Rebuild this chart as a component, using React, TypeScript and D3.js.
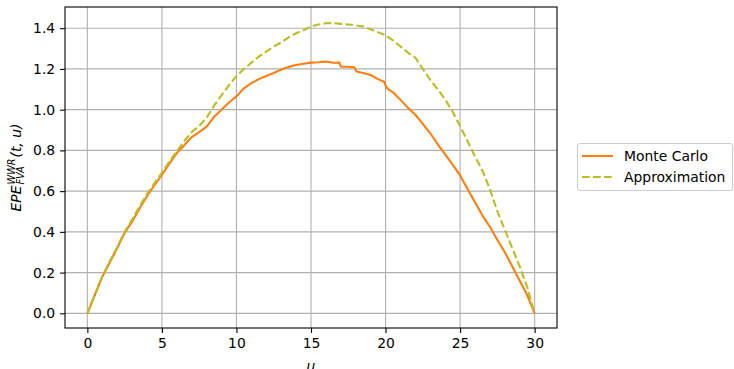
import { useEffect, useRef } from "react"
import * as d3 from "d3"

// u values and EPE estimates
const uMonteCarlo = [
  0, 0.5, 1, 1.5, 2, 2.5, 3, 3.5, 4, 4.5, 5, 5.5, 6, 6.5, 7, 7.5, 8, 8.5, 9, 9.5, 10, 10.5, 11, 11.5, 12,
  12.5, 13, 13.5, 14, 14.5, 15, 15.5, 16, 16.5, 16.9, 17.0, 17.5, 17.9, 18.05, 18.5, 19, 19.5, 19.9, 20.1,
  20.5, 21, 21.5, 22, 22.5, 23, 23.5, 24, 24.5, 25, 25.5, 26, 26.5, 27, 27.5, 28, 28.5, 29, 29.5, 30,
]
const monteCarlo = [
  0, 0.09, 0.18, 0.25, 0.32, 0.395, 0.45, 0.515, 0.575, 0.63, 0.68, 0.735, 0.787, 0.825, 0.865, 0.89, 0.917,
  0.965, 1.0, 1.035, 1.065, 1.105, 1.13, 1.15, 1.165, 1.18, 1.197, 1.21, 1.219, 1.225, 1.231, 1.233, 1.236,
  1.23, 1.231, 1.211, 1.211, 1.208, 1.187, 1.18, 1.17, 1.15, 1.137, 1.105, 1.085, 1.048, 1.01, 0.975, 0.93,
  0.884, 0.83, 0.78, 0.73, 0.677, 0.61, 0.545, 0.48, 0.425, 0.36, 0.3, 0.23, 0.16, 0.09, 0,
]
const uApprox = [
  0, 0.5, 1, 1.5, 2, 2.5, 3, 3.5, 4, 4.5, 5, 5.5, 6, 6.5, 7, 7.5, 8, 8.5, 9, 9.5, 10, 10.5, 11, 11.5, 12,
  12.5, 13, 13.5, 14, 14.5, 15, 15.5, 16, 16.5, 17, 17.5, 18, 18.5, 19, 19.5, 20, 20.5, 21, 21.5, 22, 22.5,
  23, 23.5, 24, 24.5, 25, 25.5, 26, 26.5, 27, 27.5, 28, 28.5, 29, 29.5, 30,
]
const approximation = [
  0, 0.09, 0.18, 0.255, 0.325, 0.4, 0.46, 0.525, 0.585, 0.64, 0.69, 0.745, 0.795, 0.845, 0.89, 0.92, 0.96,
  1.02, 1.07, 1.12, 1.165, 1.2, 1.23, 1.26, 1.285, 1.31, 1.33, 1.355, 1.375, 1.39, 1.408, 1.418, 1.424,
  1.425, 1.421, 1.418, 1.414, 1.408, 1.395, 1.38, 1.365, 1.34, 1.31, 1.28, 1.255, 1.2, 1.146, 1.1, 1.05,
  0.99, 0.92, 0.845, 0.77, 0.7, 0.61, 0.5, 0.41, 0.32, 0.23, 0.13, 0,
]
const xTicks = [0, 5, 10, 15, 20, 25, 30]
const yTicks = [0, 0.2, 0.4, 0.6, 0.8, 1.0, 1.2, 1.4]
const seriesNames = ["Monte Carlo", "Approximation"]

const FONT = "DejaVu Sans, sans-serif"
const FS = 13.9

const App = () => {
  const svgRef = useRef<SVGSVGElement>(null)

  useEffect(() => {
    const svg = d3.select(svgRef.current)
    svg.selectAll("*").remove()

    const plot = { left: 65, right: 557, top: 7, bottom: 328 }

    const x = d3.scaleLinear().domain([-1.5, 31.5]).range([plot.left, plot.right])
    const y = d3.scaleLinear().domain([-0.072, 1.504]).range([plot.bottom, plot.top])

    // grid
    const grid = svg.append("g")
    xTicks.forEach((t) => {
      grid.append("line")
        .attr("x1", x(t)).attr("x2", x(t))
        .attr("y1", plot.top).attr("y2", plot.bottom)
        .attr("stroke", "#b0b0b0").attr("stroke-width", 1.1)
    })
    yTicks.forEach((t) => {
      grid.append("line")
        .attr("x1", plot.left).attr("x2", plot.right)
        .attr("y1", y(t)).attr("y2", y(t))
        .attr("stroke", "#b0b0b0").attr("stroke-width", 1.1)
    })

    svg.append("clipPath").attr("id", "plot-clip")
      .append("rect")
      .attr("x", plot.left).attr("y", plot.top)
      .attr("width", plot.right - plot.left).attr("height", plot.bottom - plot.top)

    const line = d3.line<[number, number]>().x((d) => x(d[0])).y((d) => y(d[1]))

    const lines = svg.append("g").attr("clip-path", "url(#plot-clip)")
    lines.append("path")
      .datum(uMonteCarlo.map((u, i) => [u, monteCarlo[i]] as [number, number]))
      .attr("d", line)
      .attr("fill", "none")
      .attr("stroke", "#ff7f0e")
      .attr("stroke-width", 2.1)
      .attr("stroke-linejoin", "round")

    lines.append("path")
      .datum(uApprox.map((u, i) => [u, approximation[i]] as [number, number]))
      .attr("d", line)
      .attr("fill", "none")
      .attr("stroke", "#bcbd22")
      .attr("stroke-width", 2.1)
      .attr("stroke-dasharray", "7.7,3.3")

    // axes
    const xAxis = svg.append("g")
      .attr("transform", `translate(0,${plot.bottom})`)
      .call(d3.axisBottom(x).tickValues(xTicks).tickSize(4.9).tickPadding(4.9).tickFormat(d3.format("d")))
    const yAxis = svg.append("g")
      .attr("transform", `translate(${plot.left},0)`)
      .call(d3.axisLeft(y).tickValues(yTicks).tickSize(4.9).tickPadding(4.9).tickFormat(d3.format(".1f")))
    ;[xAxis, yAxis].forEach((a) => {
      a.select(".domain").remove()
      a.selectAll("line").attr("stroke", "#000").attr("stroke-width", 1.1)
      a.selectAll("text").style("font-family", FONT).style("font-size", `${FS}px`).attr("fill", "#000")
    })

    // frame
    svg.append("rect")
      .attr("x", plot.left).attr("y", plot.top)
      .attr("width", plot.right - plot.left).attr("height", plot.bottom - plot.top)
      .attr("fill", "none").attr("stroke", "#000").attr("stroke-width", 1.1)

    // x label
    svg.append("text")
      .attr("x", (plot.left + plot.right) / 2)
      .attr("y", 371)
      .attr("text-anchor", "middle")
      .style("font-family", FONT).style("font-size", `${FS}px`).style("font-style", "italic")
      .text("u")

    // y label: EPE^{WWR}_{FVA}(t, u)
    const yl = svg.append("g").attr("transform", `translate(21,${(plot.top + plot.bottom) / 2}) rotate(-90)`)
    const base = yl.append("g")
    const mk = (txt: string, size: number) =>
      base.append("text")
        .style("font-family", FONT).style("font-size", `${size}px`).style("font-style", "italic")
        .text(txt)
    const tEPE = mk("EPE", FS)
    const wEPE = (tEPE.node() as SVGTextElement).getComputedTextLength()
    const tSup = mk("WWR", FS * 0.7).attr("x", wEPE + 1).attr("y", -6)
    const tSub = mk("FVA", FS * 0.7).attr("x", wEPE + 1).attr("y", 3)
    const wScript = Math.max(
      (tSup.node() as SVGTextElement).getComputedTextLength(),
      (tSub.node() as SVGTextElement).getComputedTextLength()
    )
    const tRest = mk("(t, u)", FS).attr("x", wEPE + wScript + 2)
    const total = wEPE + wScript + 2 + (tRest.node() as SVGTextElement).getComputedTextLength()
    base.attr("transform", `translate(${-total / 2},0)`)

    // legend
    const lg = svg.append("g")
    lg.append("rect")
      .attr("x", 577.5).attr("y", 143.5).attr("width", 155).attr("height", 47).attr("rx", 2.5)
      .attr("fill", "#fff").attr("fill-opacity", 0.8)
      .attr("stroke", "#cccccc").attr("stroke-width", 1)
    const legendColors = ["#ff7f0e", "#bcbd22"]
    seriesNames.forEach((name, i) => {
      const ly = 156 + i * 21
      lg.append("line")
        .attr("x1", 582).attr("x2", 613).attr("y1", ly).attr("y2", ly)
        .attr("stroke", legendColors[i]).attr("stroke-width", 2.1)
        .attr("stroke-dasharray", i === 1 ? "7.7,3.3" : null)
      lg.append("text")
        .attr("x", 624).attr("y", ly).attr("dy", "0.35em")
        .style("font-family", FONT).style("font-size", `${FS}px`)
        .text(name)
    })
  }, [])

  return (
    <svg
      ref={svgRef}
      width={734}
      height={369}
      style={{ position: "absolute", left: 0, top: 0, background: "#fff" }}
    ></svg>
  )
}

export default App
